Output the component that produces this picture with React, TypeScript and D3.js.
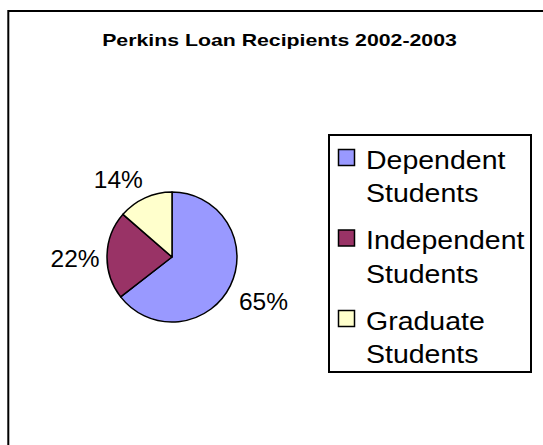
import * as d3 from "d3";

// chart data
const categories = ["Dependent Students", "Independent Students", "Graduate Students"];
const shares = [64.5, 21.9, 13.6];
const colors = ["#9999FF", "#993366", "#FFFFCC"];
const title = "Perkins Loan Recipients 2002-2003";

const W = 543;
const H = 445;
const cx = 172;
const cy = 257;
const R = 65;
const font = "'Liberation Sans', Arial, sans-serif";

function labelPos(a: number, w: number, h: number) {
  // anchor just outside the rim, then push the text box away from the pie
  const ar = R + 9;
  const s = Math.sin(a);
  const c = Math.cos(a);
  const ax = cx + ar * s;
  const ay = cy - ar * c;
  const dx = Math.abs(s) > 0.3 ? Math.sign(s) * w / 2 : s * w / 2;
  const dy = Math.abs(c) > 0.3 ? -Math.sign(c) * h / 2 : -c * h / 2 + 3;
  return [ax + dx, ay + dy];
}

export default function App() {
  const pie = d3.pie<number>().sort(null).value((d) => d);
  const arcs = pie(shares);
  const arc = d3.arc<d3.PieArcDatum<number>>().innerRadius(0).outerRadius(R);
  const total = d3.sum(shares);

  return (
    <div style={{ position: "absolute", left: 0, top: 0 }}>
      <svg width={W} height={H} style={{ display: "block", background: "#fff" }}>
        <rect x={8.3} y={11} width={W + 20} height={H + 20} fill="#fff" stroke="#000" strokeWidth={2} />
        <text
          x={279.5}
          y={46}
          textAnchor="middle"
          fontFamily={font}
          fontWeight="bold"
          fontSize={16.5}
          transform="translate(279.5,0) scale(1.29,1) translate(-279.5,0)"
        >
          {title}
        </text>

        <g transform={`translate(${cx},${cy})`}>
          {arcs.map((d, i) => (
            <path key={i} d={arc(d) || ""} fill={colors[i]} stroke="#000" strokeWidth={1.5} strokeLinejoin="round" />
          ))}
        </g>

        {arcs.map((d, i) => {
          const mid = (d.startAngle + d.endAngle) / 2;
          const [x, y] = labelPos(mid, 48, 22);
          return (
            <text key={i} x={x + 1} y={y + 9.5} textAnchor="middle" fontFamily={font} fontSize={24.5} fill="#000">
              {Math.round((d.value / total) * 100) + "%"}
            </text>
          );
        })}

        <rect x={329} y={135} width={202} height={237} fill="#fff" stroke="#000" strokeWidth={2} />
        {categories.map((c, i) => {
          const y0 = 169 + i * 80.5;
          const words = c.split(" ");
          return (
            <g key={c}>
              <rect x={338.5} y={y0 - 19.5} width={16} height={16} fill={colors[i]} stroke="#000" strokeWidth={1.5} />
              {words.map((w, j) => (
                <text
                  key={j}
                  x={366}
                  y={y0 + j * 33.5}
                  fontFamily={font}
                  fontSize={25}
                  transform={`translate(366,0) scale(1.14,1) translate(-366,0)`}
                >
                  {w}
                </text>
              ))}
            </g>
          );
        })}
      </svg>
    </div>
  );
}
